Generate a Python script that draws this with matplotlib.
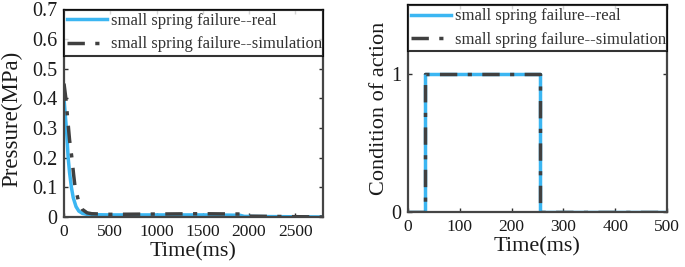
import matplotlib
matplotlib.use("Agg")
import matplotlib.pyplot as plt

plt.rcParams['font.family'] = ['Liberation Serif', 'DejaVu Serif']

# Pressure data (left)
t_real = [0, 20, 30, 45, 60, 80, 100, 130, 160, 200, 250, 300, 500, 1000, 1500, 1900, 1950, 2800]
p_real = [0.40, 0.32, 0.28, 0.20, 0.15, 0.10, 0.065, 0.035, 0.02, 0.012, 0.009, 0.008, 0.007, 0.007, 0.007, 0.006, 0.002, 0.0]
t_sim = [0, 20, 40, 60, 85, 105, 120, 160, 200, 250, 300, 500, 1000, 1500, 1900, 1950, 2800]
p_sim = [0.45, 0.40, 0.33, 0.26, 0.20, 0.14, 0.10, 0.05, 0.025, 0.014, 0.011, 0.009, 0.010, 0.011, 0.010, 0.003, 0.0]

# Action data (right)
t_act_real = [0, 33, 33, 255, 255, 500]
a_real = [0, 0, 1, 1, 0, 0]
t_act_sim = [0, 33, 33, 255, 255, 500]
a_sim = [0, 0, 1, 1, 0, 0]

labels = ["small spring failure--real", "small spring failure--simulation"]

blue = "#3BB6F2"
gray = "#404040"
dash = (0, (5, 3, 1.2, 3))
txt = "#1a1a1a"

fig = plt.figure(figsize=(6.85, 2.67), dpi=100)
ax1 = fig.add_axes([64/685, 1-217/267, (323-64)/685, (217-9.5)/267])
ax2 = fig.add_axes([408/685, 1-212/267, (667-408)/685, (212-5)/267])

def style(ax):
    for s in ax.spines.values():
        s.set_color("#454545")
        s.set_linewidth(1.6)
    ax.tick_params(direction="in", top=True, right=True, length=3, width=1,
                   color="#303030", labelcolor=txt)
    ax.tick_params(axis="x", labelsize=12.5, pad=5)
    ax.tick_params(axis="y", labelsize=14.5, pad=5)

def legend(ax, ybottom):
    leg = ax.legend(loc="upper left", bbox_to_anchor=(0, ybottom, 1, 1 - ybottom), mode="expand",
                    fontsize=12, frameon=True, fancybox=False, borderaxespad=0,
                    handlelength=2.4, handletextpad=0.2, borderpad=0.2, labelspacing=0.45,
                    labelcolor="#333333")
    leg.get_frame().set_edgecolor("black")
    leg.get_frame().set_linewidth(1.5)
    return leg

ax1.plot(t_real, p_real, color=blue, lw=2.5, label=labels[0])
ax1.plot(t_sim, p_sim, color=gray, lw=2.5, ls=dash, label=labels[1])
ax1.set_xlim(0, 2800)
ax1.set_ylim(0, 0.7)
ax1.set_xticks([0, 500, 1000, 1500, 2000, 2500])
ax1.set_yticks([0, 0.1, 0.2, 0.3, 0.4, 0.5, 0.6, 0.7])
ax1.set_yticklabels(["0", "0.1", "0.2", "0.3", "0.4", "0.5", "0.6", "0.7"])
ax1.set_xlabel("Time(ms)", fontsize=16, color=txt)
ax1.set_ylabel("Pressure(MPa)", fontsize=16.5, color=txt)
ax1.xaxis.set_label_coords(0.5, -0.12)
ax1.yaxis.set_label_coords(-0.16, 0.475)
style(ax1)
legend(ax1, 0.55 / 0.7)

ax2.plot(t_act_real, a_real, color=blue, lw=2.5, label=labels[0])
ax2.plot(t_act_sim, a_sim, color=gray, lw=2.5, ls=dash, label=labels[1])
ax2.set_xlim(0, 500)
ax2.set_ylim(0, 1.5)
ax2.set_xticks([0, 100, 200, 300, 400, 500])
ax2.set_yticks([0, 1])
ax2.set_xlabel("Time(ms)", fontsize=16, color=txt)
ax2.set_ylabel("Condition of action", fontsize=16, color=txt)
ax2.xaxis.set_label_coords(0.5, -0.12)
ax2.yaxis.set_label_coords(-0.072, 0.5)
style(ax2)
legend(ax2, 1.17 / 1.5)

fig.savefig("out.png", dpi=100)
